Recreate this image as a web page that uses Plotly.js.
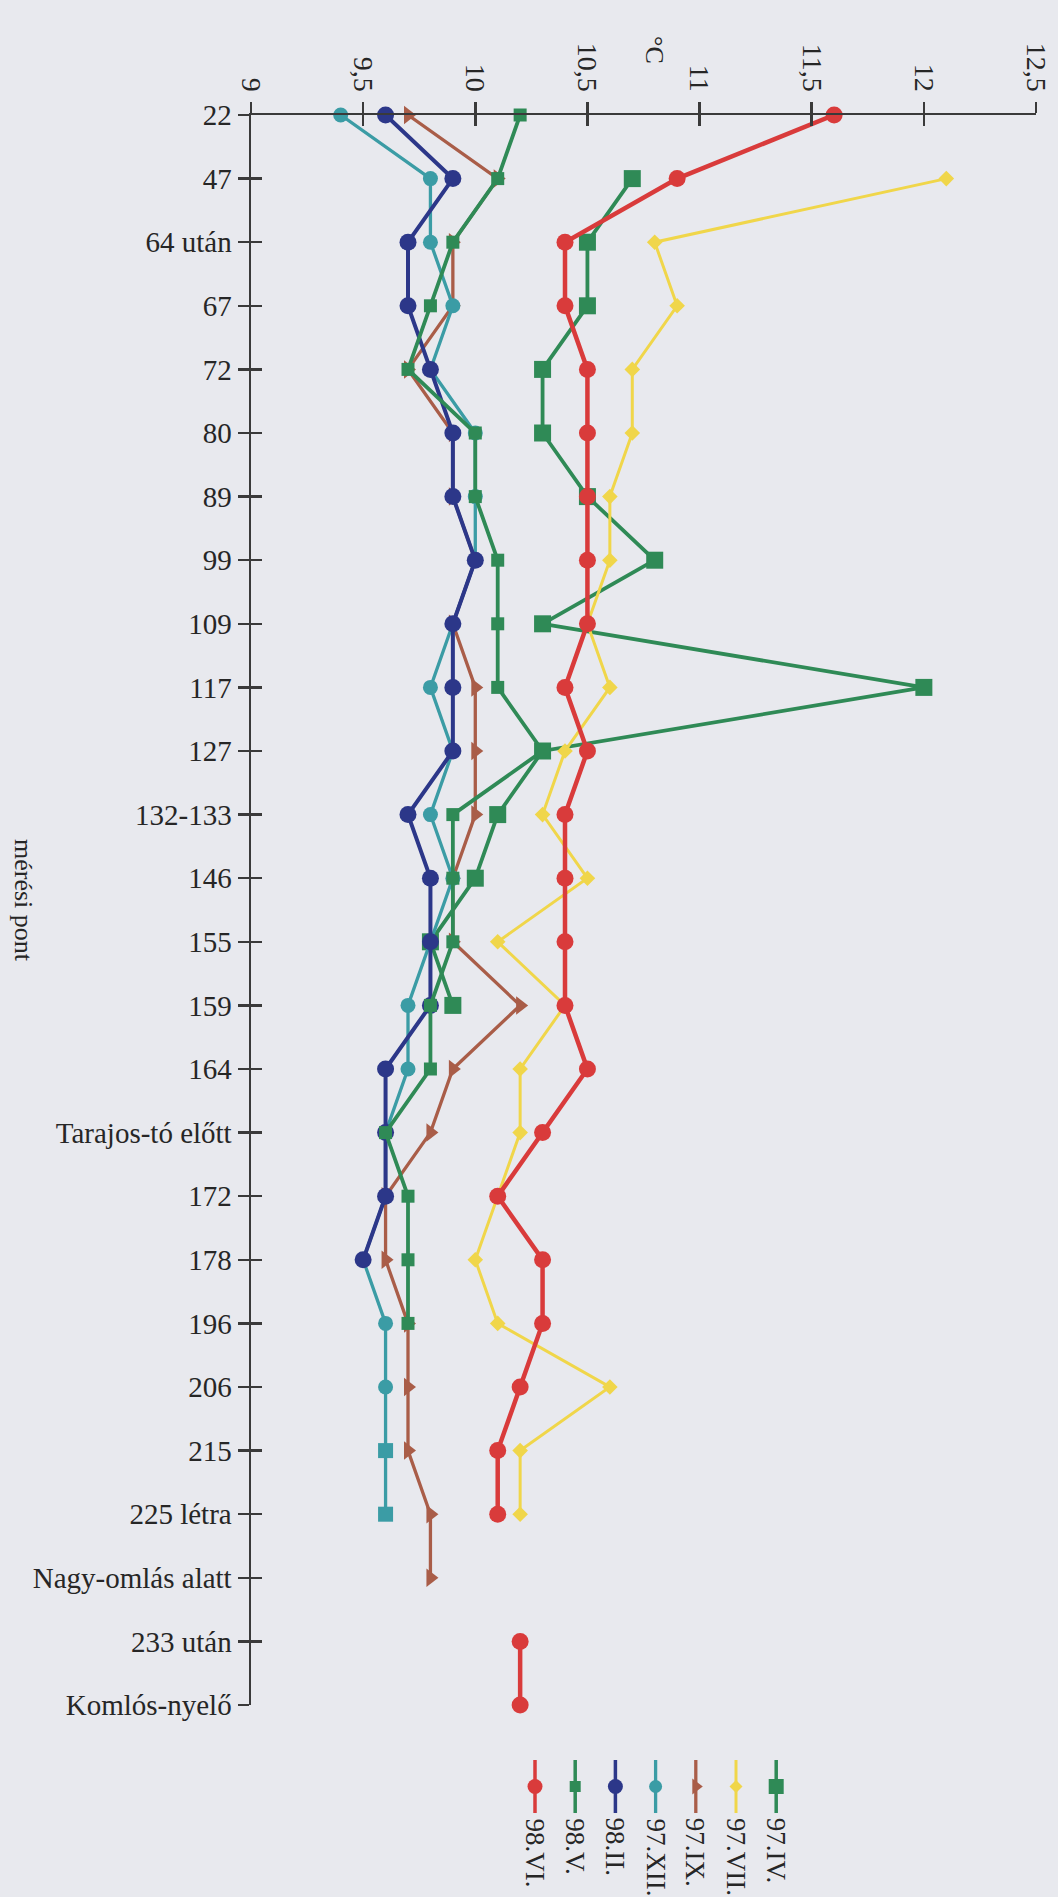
<!DOCTYPE html>
<html>
<head>
<meta charset="utf-8">
<script src="https://cdn.plot.ly/plotly-3.0.1.min.js"></script>
<style>
  html, body { margin: 0; padding: 0; background: #e8e9ee; }
  #chart { width: 1058px; height: 1897px; }
</style>
</head>
<body>
<div id="chart"></div>
<script>
// ---------- data ----------
const categories = ["22","47","64 után","67","72","80","89","99","109","117","127","132-133","146","155","159","164","Tarajos-tó előtt","172","178","196","206","215","225 létra","Nagy-omlás alatt","233 után","Komlós-nyelő"];

const xTickVals = [9, 9.5, 10, 10.5, 11, 11.5, 12, 12.5];
const xTickText = ["9", "9,5", "10", "10,5", "11", "11,5", "12", "12,5"];

const seriesNames = ["98.VI.", "98.V.", "98.II.", "97.XII.", "97.IX.", "97.VII.", "97.IV."];

const s98VI  = [11.6,10.9,10.4,10.4,10.5,10.5,10.5,10.5,10.5,10.4,10.5,10.4,10.4,10.4,10.4,10.5,10.3,10.1,10.3,10.3,10.2,10.1,10.1,null,10.2,10.2];
const s98V   = [10.2,10.1,9.9,9.8,9.7,10.0,10.0,10.1,10.1,10.1,10.3,9.9,9.9,9.9,9.8,9.8,9.6,9.7,9.7,9.7,null,null,null,null,null,null];
const s98II  = [9.6,9.9,9.7,9.7,9.8,9.9,9.9,10.0,9.9,9.9,9.9,9.7,9.8,9.8,9.8,9.6,9.6,9.6,9.5,null,null,null,null,null,null,null];
const s97XII = [9.4,9.8,9.8,9.9,9.8,10.0,10.0,10.0,9.9,9.8,9.9,9.8,9.9,9.8,9.7,9.7,9.6,9.6,9.5,9.6,9.6,9.6,9.6,null,null,null];
const s97IX  = [9.7,10.1,9.9,9.9,9.7,9.9,9.9,10.0,9.9,10.0,10.0,10.0,9.9,9.9,10.2,9.9,9.8,9.6,9.6,9.7,9.7,9.7,9.8,9.8,null,null];
const s97VII = [null,12.1,10.8,10.9,10.7,10.7,10.6,10.6,10.5,10.6,10.4,10.3,10.5,10.1,10.4,10.2,10.2,10.1,10.0,10.1,10.6,10.2,10.2,null,null,null];
const s97IV  = [null,10.7,10.5,10.5,10.3,10.3,10.5,10.8,10.3,12.0,10.3,10.1,10.0,9.8,9.9,null,null,null,null,null,null,null,null,null,null,null];

// per-point marker shapes of 97.XII (last two points drawn as squares in the original)
const s97XIIsymbols = categories.map((c, i) => (i === 21 || i === 22) ? "square" : "circle");

// ---------- styles ----------
const styles = {
  "98.VI.":  {data: s98VI,  color: "#d93b3b", symbol: "circle",         size: 17, width: 4.5},
  "98.V.":   {data: s98V,   color: "#2f8a56", symbol: "square",         size: 13, width: 3.8},
  "98.II.":  {data: s98II,  color: "#2c3789", symbol: "circle",         size: 17, width: 4},
  "97.XII.": {data: s97XII, color: "#3b9ca5", symbol: s97XIIsymbols,    size: 15, width: 3.3},
  "97.IX.":  {data: s97IX,  color: "#a95d48", symbol: "triangle-right", size: 16, width: 3.3},
  "97.VII.": {data: s97VII, color: "#f0d64a", symbol: "diamond",        size: 12, width: 3},
  "97.IV.":  {data: s97IV,  color: "#2f8a56", symbol: "square",         size: 17, width: 3.8}
};

const W = 1058, H = 1897;
const mL = 251, mR = 22, mT = 115, mB = 10;
const plotH = H - mT - mB;
const plotW = W - mL - mR;
const axisBottomPx = 1705;
const yDomainStart = (H - mB - axisBottomPx) / plotH;
const pxToPaperY = py => (H - mB - py) / plotH;
const pxToPaperX = px => (px - mL) / plotW;

const traces = [];
// draw in reverse legend order so 98.VI is on top
for (let k = seriesNames.length - 1; k >= 0; k--) {
  const name = seriesNames[k];
  const st = styles[name];
  traces.push({
    type: "scatter",
    mode: "lines+markers",
    name: name,
    x: st.data,
    y: categories,
    xaxis: "x",
    yaxis: "y",
    cliponaxis: false,
    connectgaps: false,
    line: {color: st.color, width: st.width},
    marker: {color: st.color, symbol: st.symbol, size: st.size, opacity: 1, line: {width: 0}},
    showlegend: false
  });
}

// empty trace so the overlaid tick-only axes are created
traces.push({type: "scatter", mode: "markers", x: [null], y: [null], xaxis: "x2", yaxis: "y2", showlegend: false, hoverinfo: "skip"});

// custom vertical legend (drawn on its own small axes)
const legendIdx = seriesNames.map((n, i) => i);
seriesNames.forEach((name, i) => {
  const st = styles[name];
  const sym = Array.isArray(st.symbol) ? st.symbol[0] : st.symbol;
  traces.push({
    type: "scatter",
    mode: "lines+markers",
    x: [legendIdx[i], legendIdx[i], legendIdx[i]],
    y: [0, 1, 2],
    xaxis: "x3",
    yaxis: "y3",
    cliponaxis: false,
    line: {color: st.color, width: Math.min(st.width, 3.5)},
    marker: {color: st.color, symbol: sym, size: [0, st.size - 2, 0], opacity: 1, line: {width: 0}},
    showlegend: false,
    hoverinfo: "skip"
  });
});

const fontFam = "'Liberation Serif', 'Times New Roman', serif";
const axisColor = "#3a3a3a";
const textColor = "#262626";

const annotations = [
  {
    text: "°C", xref: "paper", yref: "paper",
    x: pxToPaperX(655), y: pxToPaperY(50),
    showarrow: false, textangle: 90,
    font: {family: fontFam, size: 26, color: textColor},
    xanchor: "center", yanchor: "middle"
  },
  {
    text: "mérési pont", xref: "paper", yref: "paper",
    x: pxToPaperX(24), y: pxToPaperY(900),
    showarrow: false, textangle: 90,
    font: {family: fontFam, size: 26, color: textColor},
    xanchor: "center", yanchor: "middle"
  }
];
seriesNames.forEach((name, i) => {
  annotations.push({
    text: name, xref: "x3", yref: "paper",
    x: legendIdx[i], y: pxToPaperY(1816),
    showarrow: false, textangle: 90,
    font: {family: fontFam, size: 27, color: textColor},
    xanchor: "center", yanchor: "top"
  });
});

const legendFirstPx = 535, legendStepPx = 40.2;
const x3Range = [(mL - legendFirstPx) / legendStepPx, (W - mR - legendFirstPx) / legendStepPx];

const layout = {
  width: W, height: H,
  margin: {l: mL, r: mR, t: mT, b: mB},
  paper_bgcolor: "#e8e9ee",
  plot_bgcolor: "rgba(0,0,0,0)",
  showlegend: false,
  font: {family: fontFam, color: textColor},
  xaxis: {
    domain: [0, 1],
    side: "top", anchor: "y",
    range: [9, 12.5],
    tickvals: xTickVals, ticktext: xTickText,
    tickangle: 90,
    ticks: "outside", ticklen: 11, tickwidth: 2.5, tickcolor: axisColor,
    showline: true, linecolor: axisColor, linewidth: 2.5,
    showgrid: false, zeroline: false,
    tickfont: {family: fontFam, size: 28, color: textColor}
  },
  xaxis2: {
    overlaying: "x", side: "top", anchor: "y2",
    range: [9, 12.5],
    tickvals: xTickVals,
    ticks: "inside", ticklen: 11, tickwidth: 2.5, tickcolor: axisColor,
    showticklabels: false, showline: false, showgrid: false, zeroline: false
  },
  yaxis: {
    domain: [yDomainStart, 1],
    type: "category",
    categoryorder: "array", categoryarray: categories,
    range: [categories.length - 1, 0],
    anchor: "x",
    ticks: "outside", ticklen: 11, tickwidth: 2.5, tickcolor: axisColor,
    showline: true, linecolor: axisColor, linewidth: 2.5,
    showgrid: false, zeroline: false,
    tickfont: {family: fontFam, size: 29, color: textColor}
  },
  yaxis2: {
    overlaying: "y", anchor: "x2", side: "left",
    type: "linear",
    range: [categories.length - 1, 0],
    tickvals: categories.map((c, i) => i),
    ticks: "inside", ticklen: 11, tickwidth: 2.5, tickcolor: axisColor,
    showticklabels: false, showline: false, showgrid: false, zeroline: false
  },
  xaxis3: {
    domain: [0, 1], anchor: "y3",
    range: x3Range,
    visible: false
  },
  yaxis3: {
    domain: [pxToPaperY(1813), pxToPaperY(1760)], anchor: "x3",
    range: [2, 0],
    visible: false
  },
  annotations: annotations
};

Plotly.newPlot("chart", traces, layout, {staticPlot: true, displayModeBar: false});
</script>
</body>
</html>
